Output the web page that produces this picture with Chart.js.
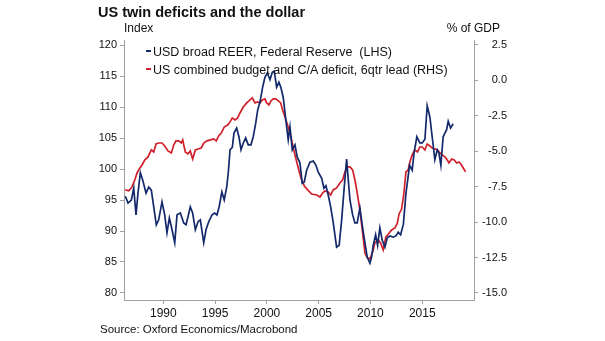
<!DOCTYPE html>
<html>
<head>
<meta charset="utf-8">
<script src="https://cdn.jsdelivr.net/npm/chart.js@4.4.1/dist/chart.umd.min.js"></script>
<style>
    body { margin: 0; background: #fff; }
    #wrap { position: relative; width: 605px; height: 341px; font-family: "Liberation Sans", Arial, sans-serif; color: #111; }
    #wrap div { position: absolute; white-space: pre; line-height: 1; }
    .dash { display: inline-block; width: 5px; height: 2px; margin-right: 2px; vertical-align: 4px; }
</style>
</head>
<body>
<div id="wrap">
    <canvas id="myChart" width="605" height="341"></canvas>
    <div id="title" style="left:98px; top:5px; font-size:14.5px; font-weight:bold;">US twin deficits and the dollar</div>
    <div style="left:124px; top:22px; font-size:12px;">Index</div>
    <div style="right:105px; top:22px; font-size:12px;">% of GDP</div>
    <div style="left:146px; top:46px; font-size:12.5px;"><span class="dash" style="background:#13296b"></span>USD broad REER, Federal Reserve  (LHS)</div>
    <div style="left:146px; top:64px; font-size:12.5px;"><span class="dash" style="background:#d0212b"></span>US combined budget and C/A deficit, 6qtr lead (RHS)</div>
    <div style="left:100px; top:323.5px; font-size:11.5px;">Source: Oxford Economics/Macrobond</div>
</div>
<script>
// USD broad REER (LHS)
const reerYears = [1986.33, 1986.59, 1986.91, 1987.14, 1987.36, 1987.55, 1987.78, 1988.01, 1988.33, 1988.59,
    1988.84, 1989.07, 1989.32, 1989.55, 1989.87, 1990.13, 1990.35, 1990.58, 1990.84, 1991.10,
    1991.32, 1991.64, 1991.97, 1992.19, 1992.38, 1992.60, 1992.83, 1993.09, 1993.35, 1993.57,
    1993.90, 1994.12, 1994.38, 1994.70, 1994.96, 1995.18, 1995.40, 1995.65, 1995.88, 1996.12,
    1996.27, 1996.44, 1996.66, 1996.82, 1997.08, 1997.30, 1997.50, 1997.72, 1997.95, 1998.20,
    1998.46, 1998.68, 1998.92, 1999.11, 1999.33, 1999.59, 1999.81, 2000.04, 2000.30, 2000.52,
    2000.71, 2000.94, 2001.16, 2001.36, 2001.58, 2001.81, 2002.06, 2002.23, 2002.45, 2002.71,
    2002.93, 2003.19, 2003.41, 2003.61, 2003.84, 2004.16, 2004.48, 2004.74, 2004.96, 2005.29,
    2005.51, 2005.70, 2005.92, 2006.16, 2006.41, 2006.73, 2006.98, 2007.22, 2007.47, 2007.70,
    2007.86, 2008.02, 2008.28, 2008.50, 2008.72, 2008.98, 2009.24, 2009.47, 2009.69, 2009.95,
    2010.11, 2010.27, 2010.50, 2010.69, 2010.91, 2011.14, 2011.40, 2011.62, 2011.88, 2012.20,
    2012.46, 2012.68, 2012.91, 2013.18, 2013.43, 2013.78, 2014.03, 2014.22, 2014.48, 2014.77,
    2015.00, 2015.26, 2015.48, 2015.74, 2015.96, 2016.22, 2016.45, 2016.61, 2016.80, 2017.02,
    2017.19, 2017.35, 2017.51, 2017.74, 2017.99];
const reerValues = [95.6, 94.5, 95.0, 96.9, 92.6, 96.1, 99.4, 98.2, 96.1, 97.1,
    96.6, 93.9, 91.0, 91.8, 94.7, 92.6, 89.7, 92.1, 90.2, 88.1,
    92.6, 92.9, 91.3, 91.0, 92.3, 93.9, 92.9, 90.2, 91.5, 91.8,
    88.1, 90.2, 91.5, 92.6, 92.9, 92.6, 94.0, 96.3, 95.0, 97.1,
    99.4, 103.1, 103.5, 105.8, 106.6, 105.2, 103.1, 104.2, 105.0, 103.9,
    103.9, 105.2, 107.4, 109.5, 110.8, 113.2, 114.8, 115.5, 114.4, 115.6,
    115.8, 113.2, 114.0, 113.1, 111.5, 108.2, 104.7, 106.8, 103.1, 103.9,
    101.9, 101.0, 97.7, 97.9, 99.8, 101.1, 101.3, 100.6, 99.5, 98.5,
    96.9, 97.3, 95.8, 93.9, 91.3, 87.4, 87.7, 91.8, 97.1, 101.6,
    98.2, 95.0, 92.6, 91.3, 91.3, 93.7, 90.6, 88.1, 85.8, 84.8,
    85.8, 87.7, 89.4, 87.7, 90.5, 88.5, 87.4, 88.9, 89.2, 89.0,
    89.2, 89.8, 89.4, 91.1, 96.1, 100.6, 99.8, 102.7, 105.2, 104.2,
    104.2, 104.8, 110.2, 108.4, 105.2, 101.5, 103.1, 102.6, 100.6, 105.2,
    105.8, 106.3, 107.7, 106.6, 107.3];

// US combined budget and C/A deficit, 6qtr lead (RHS)
const deficitYears = [1986.33, 1986.66, 1986.98, 1987.24, 1987.46, 1987.68, 1987.94, 1988.20, 1988.52, 1988.84,
    1989.07, 1989.29, 1989.55, 1989.87, 1990.13, 1990.45, 1990.77, 1991.00, 1991.22, 1991.48,
    1991.73, 1991.87, 1992.12, 1992.38, 1992.60, 1992.83, 1993.09, 1993.35, 1993.66, 1993.90,
    1994.21, 1994.53, 1994.86, 1995.11, 1995.34, 1995.60, 1995.88, 1996.21, 1996.44, 1996.66,
    1996.92, 1997.18, 1997.40, 1997.72, 1998.05, 1998.37, 1998.59, 1998.85, 1999.11, 1999.33,
    1999.55, 1999.81, 1999.98, 2000.20, 2000.39, 2000.61, 2000.85, 2001.10, 2001.33, 2001.52,
    2001.74, 2002.06, 2002.32, 2002.55, 2002.78, 2003.03, 2003.29, 2003.61, 2003.94, 2004.32,
    2004.81, 2005.13, 2005.39, 2005.61, 2005.92, 2006.16, 2006.41, 2006.73, 2007.05, 2007.31,
    2007.54, 2007.76, 2008.02, 2008.28, 2008.50, 2008.72, 2008.98, 2009.21, 2009.47, 2009.69,
    2009.95, 2010.21, 2010.43, 2010.75, 2010.98, 2011.23, 2011.49, 2011.81, 2012.04, 2012.36,
    2012.59, 2012.77, 2013.00, 2013.20, 2013.43, 2013.64, 2013.81, 2014.03, 2014.29, 2014.55,
    2014.77, 2015.00, 2015.26, 2015.48, 2015.74, 2015.96, 2016.22, 2016.48, 2016.71, 2016.93,
    2017.19, 2017.42, 2017.58, 2017.84, 2018.09, 2018.32, 2018.54, 2018.73, 2018.96, 2019.19];
const deficitValues = [-7.73, -7.80, -7.52, -7.03, -6.53, -6.25, -5.97, -5.62, -5.40, -4.91,
    -5.05, -4.49, -4.42, -4.42, -4.63, -4.98, -5.12, -4.56, -4.27, -4.27,
    -4.42, -4.20, -5.05, -5.19, -4.98, -5.55, -4.91, -4.84, -4.77, -4.42,
    -4.27, -4.20, -4.13, -4.27, -3.92, -3.71, -3.29, -3.15, -2.93, -2.65,
    -2.79, -2.65, -2.30, -1.88, -1.59, -1.38, -1.24, -1.59, -1.52, -1.59,
    -1.38, -1.31, -1.59, -1.73, -1.45, -1.31, -1.31, -1.45, -1.59, -2.09,
    -2.58, -3.29, -3.99, -4.77, -5.47, -6.18, -6.89, -7.45, -7.73, -8.02,
    -8.09, -8.23, -7.94, -7.80, -7.87, -8.09, -7.73, -7.59, -7.24, -7.03,
    -6.46, -6.11, -6.11, -6.32, -7.03, -7.94, -9.14, -10.56, -12.18, -12.53,
    -12.60, -12.11, -11.47, -11.26, -11.47, -11.97, -11.05, -10.77, -10.56, -10.41,
    -10.10, -9.41, -9.10, -8.16, -6.46, -6.32, -5.76, -5.26, -4.91, -5.05,
    -4.70, -4.70, -4.91, -4.49, -4.63, -4.77, -4.84, -4.91, -5.12, -5.26,
    -5.40, -5.62, -5.83, -5.55, -5.62, -5.83, -5.76, -5.90, -6.18, -6.46];

const yearTicks = [1990, 1995, 2000, 2005, 2010, 2015];
const indexTicks = [80, 85, 90, 95, 100, 105, 110, 115, 120];
const gdpTicks = [-15, -12.5, -10, -7.5, -5, -2.5, 0, 2.5];

const blue = '#13296b';
const red = '#d0212b';
const axisGrey = '#a0a0a0';

function toPoints(xs, ys) {
    const pts = [];
    for (let i = 0; i < xs.length; i++) {
        pts.push({ x: xs[i], y: ys[i] });
    }
    return pts;
}

function setTicks(values) {
    return function (axis) {
        axis.ticks = values.map(function (v) { return { value: v }; });
    };
}

const ctx = document.getElementById('myChart').getContext('2d');
new Chart(ctx, {
    type: 'line',
    data: {
        datasets: [{
            data: toPoints(reerYears, reerValues),
            borderColor: blue,
            borderWidth: 1.7,
            pointRadius: 0,
            tension: 0,
            yAxisID: 'yLeft'
        }, {
            data: toPoints(deficitYears, deficitValues),
            borderColor: red,
            borderWidth: 1.7,
            pointRadius: 0,
            tension: 0,
            yAxisID: 'yRight'
        }]
    },
    options: {
        responsive: false,
        animation: false,
        layout: { padding: { top: 40, right: 98, left: 0, bottom: 0 } },
        plugins: {
            legend: { display: false },
            tooltip: { enabled: false }
        },
        scales: {
            x: {
                type: 'linear',
                min: 1986.2,
                max: 2020.0,
                afterBuildTicks: setTicks(yearTicks),
                afterFit: function (axis) { axis.height = 41; },
                grid: { drawOnChartArea: false, tickLength: 4, color: axisGrey },
                border: { color: axisGrey },
                ticks: {
                    padding: 2,
                    color: '#111',
                    maxRotation: 0,
                    font: { family: 'Liberation Sans', size: 12 },
                    callback: function (v) { return String(v); }
                }
            },
            yLeft: {
                type: 'linear',
                position: 'left',
                min: 78.87,
                max: 120.81,
                afterBuildTicks: setTicks(indexTicks),
                afterFit: function (axis) { axis.width = 124; },
                grid: { drawOnChartArea: false, tickLength: 4, color: axisGrey },
                border: { color: axisGrey },
                ticks: {
                    padding: 3,
                    color: '#111',
                    font: { family: 'Liberation Sans', size: 11 },
                    callback: function (v) { return String(v); }
                }
            },
            yRight: {
                type: 'linear',
                position: 'right',
                min: -15.5,
                max: 2.85,
                afterBuildTicks: setTicks(gdpTicks),
                afterFit: function (axis) { axis.width = 33; },
                grid: { drawOnChartArea: false, tickLength: 4, color: axisGrey },
                border: { color: axisGrey },
                ticks: {
                    padding: 3,
                    crossAlign: 'far',
                    color: '#111',
                    font: { family: 'Liberation Sans', size: 11 },
                    callback: function (v) { return v.toFixed(1); }
                }
            }
        }
    }
});
</script>
</body>
</html>
